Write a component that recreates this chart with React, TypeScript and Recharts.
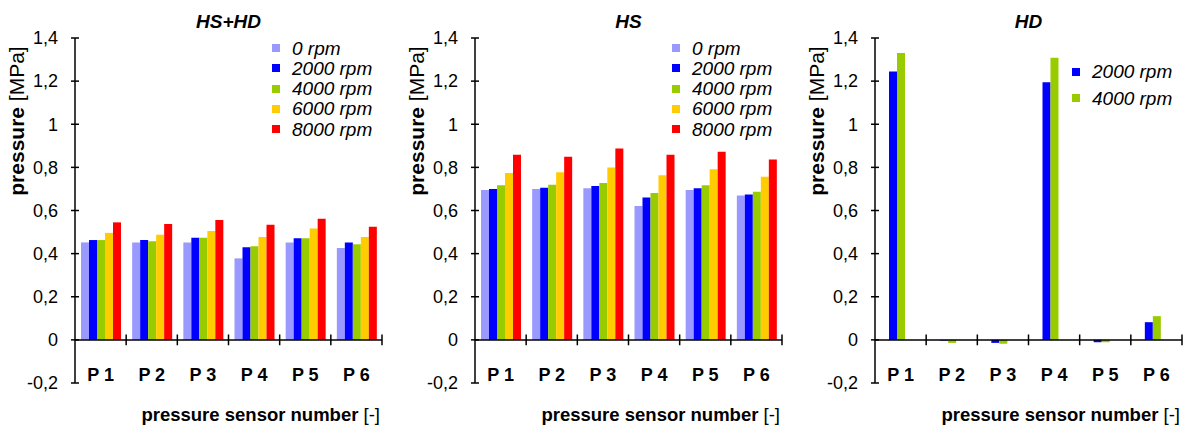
import React from "react";
import { BarChart, Bar, XAxis, YAxis, ReferenceLine, Legend, Label } from "recharts";

const sensors = ["P 1", "P 2", "P 3", "P 4", "P 5", "P 6"];
const speeds = ["0 rpm", "2000 rpm", "4000 rpm", "6000 rpm", "8000 rpm"];
const colors = ["#9999FF", "#0000FF", "#99CC00", "#FFCC00", "#FF0000"];
const yTicks = [-0.2, 0, 0.2, 0.4, 0.6, 0.8, 1, 1.2, 1.4];

// HS+HD
const hshd0 = [0.452, 0.452, 0.452, 0.378, 0.452, 0.426];
const hshd2000 = [0.463, 0.463, 0.474, 0.43, 0.471, 0.452];
const hshd4000 = [0.463, 0.457, 0.474, 0.434, 0.471, 0.444];
const hshd6000 = [0.496, 0.488, 0.505, 0.477, 0.516, 0.477];
const hshd8000 = [0.545, 0.537, 0.556, 0.534, 0.562, 0.525];

// HS
const hs0 = [0.695, 0.7, 0.703, 0.621, 0.695, 0.67];
const hs2000 = [0.7, 0.706, 0.714, 0.66, 0.703, 0.674];
const hs4000 = [0.717, 0.72, 0.728, 0.681, 0.717, 0.687];
const hs6000 = [0.774, 0.777, 0.799, 0.763, 0.791, 0.756];
const hs8000 = [0.859, 0.849, 0.887, 0.859, 0.873, 0.837];

// HD (only 2000 and 4000 rpm measured)
const hd2000 = [1.245, -0.003, -0.014, 1.195, -0.011, 0.082];
const hd4000 = [1.33, -0.014, -0.018, 1.308, -0.011, 0.11];

const font = "'Liberation Sans', Arial, sans-serif";
const keys = ["s0", "s2000", "s4000", "s6000", "s8000"];

const fmt = (v: number) => String(v).replace(".", ",");

const YTick = (props: any) => {
  const { x, y, payload } = props;
  return (
    <g>
      <line x1={x + 13} x2={x + 21} y1={y} y2={y} stroke="#000" strokeWidth={1.5} />
      <text x={x} y={y} dy="0.35em" textAnchor="end" fontSize={18} fill="#000" fontFamily={font}>
        {fmt(payload.value)}
      </text>
    </g>
  );
};

const XTick = (props: any) => {
  const { x, y, payload } = props;
  return (
    <text x={x} y={y} dy={-2} textAnchor="middle" fontSize={18} fontWeight="bold" fill="#000" fontFamily={font}>
      {payload.value}
    </text>
  );
};

const XTitle = (props: any) => {
  const vb = props.viewBox;
  return (
    <text x={vb.x + vb.width - 2} y={vb.y + 38} textAnchor="end" fontSize={18.5} fill="#000" fontFamily={font}>
      <tspan fontWeight="bold">pressure sensor number</tspan>
      <tspan> [-]</tspan>
    </text>
  );
};

const YTitle = () => (
  <text transform="translate(24, 121) rotate(-90)" textAnchor="middle" fontSize={21} fill="#000" fontFamily={font}>
    <tspan fontWeight="bold">pressure</tspan>
    <tspan> [MPa]</tspan>
  </text>
);

type PanelProps = {
  title: string;
  series: (number[] | null)[];
  legendTop: number;
  legendStep: number;
  left: number;
};

function Panel({ title, series, legendTop, legendStep, left }: PanelProps) {
  const data = sensors.map((s, i) => {
    const row: any = { sensor: s };
    series.forEach((vals, k) => {
      row[keys[k]] = vals ? vals[i] : null;
    });
    return row;
  });
  const items = speeds
    .map((name, k) => ({ name, color: colors[k], used: !!series[k] }))
    .filter((it) => it.used);

  const renderLegend = () => (
    <div style={{ fontFamily: font }}>
      {items.map((it) => (
        <div key={it.name} style={{ display: "flex", alignItems: "center", height: legendStep }}>
          <span style={{ display: "inline-block", width: 8, height: 8, background: it.color }} />
          <span style={{ marginLeft: 12, fontSize: 19, fontStyle: "italic", color: "#000", lineHeight: "19px" }}>
            {it.name}
          </span>
        </div>
      ))}
    </div>
  );

  return (
    <div style={{ position: "absolute", left, top: 0, width: 400, height: 429 }}>
      <div
        style={{
          position: "absolute",
          left: 75,
          width: 307,
          top: 12,
          textAlign: "center",
          fontFamily: font,
          fontSize: 19,
          lineHeight: "19px",
          fontWeight: "bold",
          fontStyle: "italic",
          zIndex: 1,
        }}
      >
        {title}
      </div>
      <BarChart
        width={400}
        height={429}
        data={data}
        margin={{ top: 38, right: 18, bottom: 0, left: 0 }}
        barGap={0}
      >
        <XAxis
          dataKey="sensor"
          type="category"
          height={46}
          axisLine={false}
          tickLine={false}
          tickSize={0}
          tickMargin={0}
          interval={0}
          tick={<XTick />}
        >
          <Label content={<XTitle />} />
        </XAxis>
        <YAxis
          type="number"
          domain={[-0.2, 1.4]}
          ticks={yTicks}
          interval={0}
          width={75}
          axisLine={{ stroke: "#000", strokeWidth: 1.5 }}
          tickLine={false}
          tickSize={0}
          tickMargin={17}
          tick={<YTick />}
          allowDataOverflow
        >
          <Label content={<YTitle />} />
        </YAxis>
        <Legend
          layout="horizontal"
          verticalAlign="middle"
          align="center"
          wrapperStyle={{ top: legendTop, left: 272, width: 125 }}
          content={renderLegend}
        />
        {keys.map((k, i) => (
          <Bar key={k} dataKey={k} fill={colors[i]} barSize={8} isAnimationActive={false} />
        ))}
        <ReferenceLine y={0} stroke="#000" strokeWidth={1.5} />
        {sensors.map((s) => (
          <ReferenceLine
            key={s}
            segment={[
              { x: s, y: 0.025 },
              { x: s, y: -0.025 },
            ]}
            position="end"
            stroke="#000"
            strokeWidth={1.5}
          />
        ))}
      </BarChart>
    </div>
  );
}

export default function App() {
  return (
    <div style={{ position: "absolute", left: 0, top: 0, width: 1184, height: 429, background: "#fff" }}>
      <Panel
        title="HS+HD"
        series={[hshd0, hshd2000, hshd4000, hshd6000, hshd8000]}
        legendTop={38}
        legendStep={20.25}
        left={0}
      />
      <Panel
        title="HS"
        series={[hs0, hs2000, hs4000, hs6000, hs8000]}
        legendTop={38}
        legendStep={20.25}
        left={400}
      />
      <Panel
        title="HD"
        series={[null, hd2000, hd4000, null, null]}
        legendTop={58.5}
        legendStep={26.5}
        left={800}
      />
    </div>
  );
}
